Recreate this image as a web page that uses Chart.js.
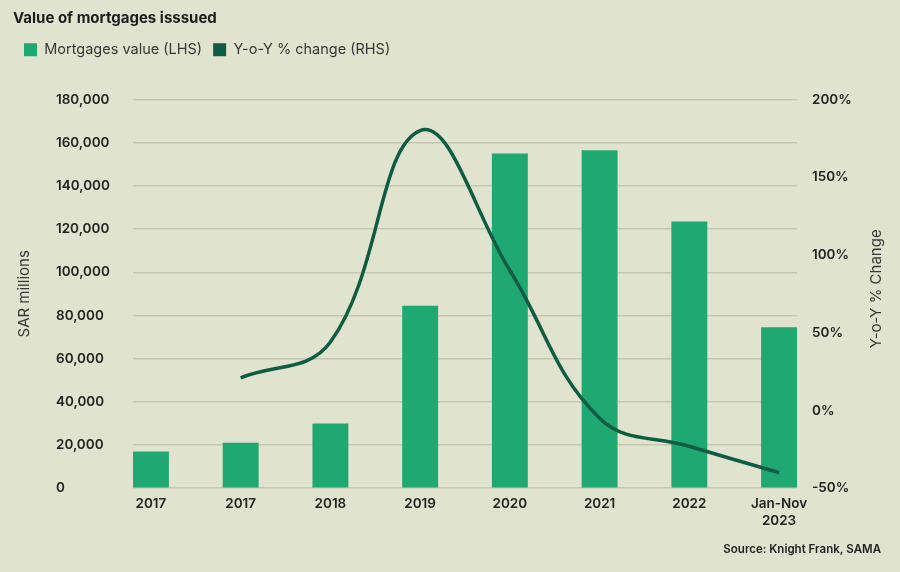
<!DOCTYPE html>
<html>
<head>
<meta charset="utf-8">
<script src="https://cdn.jsdelivr.net/npm/chart.js@4/dist/chart.umd.min.js"></script>
<style>
  html, body { margin: 0; padding: 0; background: #e0e3cd; }
  #wrap { width: 900px; height: 572px; position: relative; }
</style>
</head>
<body>
<div id="wrap"><canvas id="c"></canvas></div>
<script>
// ---------- data ----------
const chartTitle = 'Value of mortgages isssued';
const sourceText = 'Source: Knight Frank, SAMA';
const categories = ['2017', '2017', '2018', '2019', '2020', '2021', '2022', 'Jan-Nov\n2023'];
const mortgageValues = [17000, 21000, 30000, 84500, 155000, 156500, 123500, 74500];
const yoyChange = [null, 21, 44, 180, 90, -5, -23, -40];
const seriesNames = ['Mortgages value (LHS)', 'Y-o-Y % change (RHS)'];
const leftAxisTitle = 'SAR millions';
const rightAxisTitle = 'Y-o-Y % Change';
const leftTicks = [0, 20000, 40000, 60000, 80000, 100000, 120000, 140000, 160000, 180000];
const rightTicks = [-50, 0, 50, 100, 150, 200];

// ---------- style ----------
const FONT = 'Inter, "Liberation Sans", Arial, sans-serif';
const BAR_COLOR = '#1fa871';
const LINE_COLOR = '#0e5c44';
const GRID_COLOR = '#c5c8b0';
const TEXT_DARK = '#222222';
const TEXT_MID = '#383838';

const barPoints = mortgageValues.map((v, i) => ({ x: i, y: v }));
const linePoints = yoyChange.map((v, i) => ({ x: i, y: v })).filter(p => p.y !== null);

const rightTitlePlugin = {
  id: 'rightTitle',
  afterDraw(chart) {
    const s = chart.scales.y1;
    const ca = chart.chartArea;
    const ctx = chart.ctx;
    ctx.save();
    ctx.font = '15px ' + FONT;
    ctx.fillStyle = TEXT_MID;
    ctx.textAlign = 'center';
    ctx.textBaseline = 'middle';
    ctx.translate(s.right - 5, (ca.top + ca.bottom) / 2 - 5);
    ctx.rotate(-Math.PI / 2);
    ctx.fillText(rightAxisTitle, 0, 0);
    ctx.restore();
  }
};

new Chart(document.getElementById('c'), {
  data: {
    datasets: [
      {
        type: 'bar',
        label: seriesNames[0],
        data: barPoints,
        backgroundColor: BAR_COLOR,
        borderWidth: 0,
        yAxisID: 'y',
        xAxisID: 'x',
        categoryPercentage: 1,
        barPercentage: 0.4,
        order: 1
      },
      {
        type: 'line',
        label: seriesNames[1],
        data: linePoints,
        borderColor: LINE_COLOR,
        backgroundColor: LINE_COLOR,
        borderWidth: 3.5,
        tension: 0.4,
        pointRadius: 0,
        pointHoverRadius: 0,
        yAxisID: 'y1',
        xAxisID: 'x',
        order: 0
      }
    ]
  },
  options: {
    responsive: true,
    maintainAspectRatio: false,
    animation: false,
    layout: { padding: { left: 13, right: 19, top: 0, bottom: 0 } },
    plugins: {
      tooltip: { enabled: false },
      title: {
        display: true,
        text: chartTitle,
        align: 'start',
        color: '#1c1c1c',
        font: { family: FONT, size: 15, weight: '700', lineHeight: 1.2 },
        padding: { top: 9, bottom: 4.5 }
      },
      subtitle: {
        display: true,
        position: 'bottom',
        text: sourceText,
        align: 'end',
        color: TEXT_DARK,
        font: { family: FONT, size: 11.5, weight: '600', lineHeight: 1.2 },
        padding: { top: 4, bottom: 16 }
      },
      legend: {
        display: true,
        position: 'top',
        align: 'start',
        labels: {
          boxWidth: 13,
          boxHeight: 13,
          padding: 11,
          color: TEXT_MID,
          font: { family: FONT, size: 14.5, weight: '400' },
          sort: (a, b) => a.datasetIndex - b.datasetIndex,
          generateLabels(chart) {
            const items = Chart.defaults.plugins.legend.labels.generateLabels(chart);
            return items.map(it => {
              const ds = chart.data.datasets[it.datasetIndex];
              it.fillStyle = ds.type === 'line' ? ds.borderColor : ds.backgroundColor;
              it.strokeStyle = it.fillStyle;
              it.lineWidth = 0;
              return it;
            });
          }
        }
      }
    },
    scales: {
      x: {
        type: 'linear',
        position: 'bottom',
        offset: false,
        min: -0.2,
        max: categories.length - 1 + 0.2,
        afterBuildTicks(scale) { scale.ticks = categories.map((c, i) => ({ value: i })); },
        afterFit(scale) { scale.height = 50; },
        grid: { display: false, drawTicks: false },
        border: { display: false },
        ticks: {
          autoSkip: false,
          maxRotation: 0,
          padding: 7,
          color: TEXT_DARK,
          font: { family: FONT, size: 13.5, weight: '600', lineHeight: 1.25 },
          callback: (v) => {
            const lbl = categories[v];
            return lbl === undefined ? '' : lbl.split('\n');
          }
        }
      },
      xSpacer: {
        type: 'linear',
        position: 'top',
        display: true,
        afterFit(scale) { scale.height = 32.5; },
        grid: { display: false, drawTicks: false },
        border: { display: false },
        ticks: { display: false }
      },
      yTitle: {
        type: 'linear',
        position: 'left',
        weight: 1,
        display: true,
        afterFit(scale) { scale.width = 43; },
        grid: { display: false, drawTicks: false },
        border: { display: false },
        ticks: { display: false },
        title: {
          display: true,
          text: leftAxisTitle,
          color: TEXT_MID,
          font: { family: FONT, size: 15, weight: '400', lineHeight: 1.2 },
          padding: { top: 2, bottom: 0 }
        }
      },
      y: {
        type: 'linear',
        position: 'left',
        weight: 0,
        min: leftTicks[0],
        max: leftTicks[leftTicks.length - 1],
        afterFit(scale) { scale.width = 77; },
        afterBuildTicks(scale) { scale.ticks = leftTicks.map(v => ({ value: v })); },
        grid: { color: GRID_COLOR, lineWidth: 1.5, drawTicks: false },
        border: { display: false },
        ticks: {
          crossAlign: 'far',
          color: TEXT_DARK,
          font: { family: FONT, size: 13.5, weight: '600' },
          callback: (v) => v.toLocaleString('en-US')
        }
      },
      y1: {
        type: 'linear',
        position: 'right',
        min: rightTicks[0],
        max: rightTicks[rightTicks.length - 1],
        afterFit(scale) { scale.width = 84; },
        afterBuildTicks(scale) { scale.ticks = rightTicks.map(v => ({ value: v })); },
        grid: { display: false, drawTicks: false },
        border: { display: false },
        ticks: {
          padding: 15,
          color: TEXT_DARK,
          font: { family: FONT, size: 13.5, weight: '600' },
          callback: (v) => v + '%'
        }
      }
    }
  },
  plugins: [rightTitlePlugin]
});
</script>
</body>
</html>
